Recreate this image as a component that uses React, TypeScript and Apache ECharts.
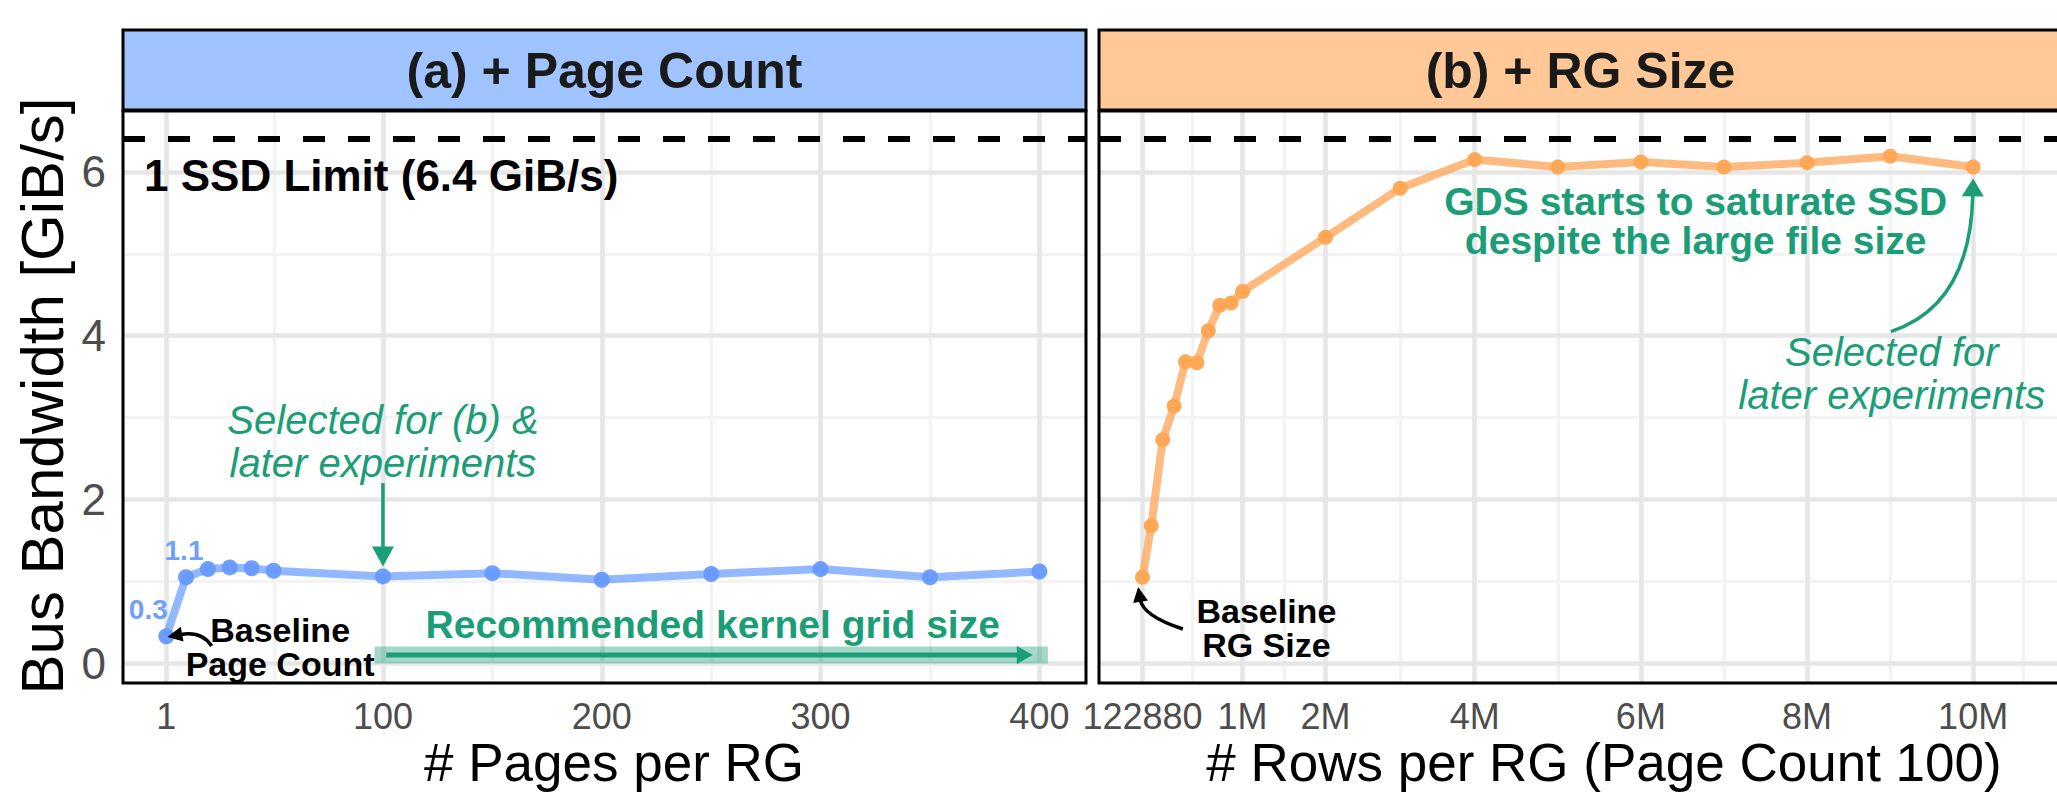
import React, { useEffect, useRef } from "react";
import * as echarts from "echarts";

// ---------- data ----------
const pagesPerRG = [1, 10, 20, 30, 40, 50, 100, 150, 200, 250, 300, 350, 400];
const pageBandwidth = [0.33, 1.05, 1.15, 1.17, 1.16, 1.13, 1.06, 1.1, 1.02, 1.09, 1.15, 1.05, 1.12];
const pageValueLabels = ["0.3", "1.1"]; // printed on the first two points

const rowsPerRG = [
  122880, 200000, 300000, 400000, 500000, 600000, 700000, 800000, 900000, 1000000,
  2000000, 3000000, 4000000, 5000000, 6000000, 7000000, 8000000, 9000000, 10000000,
];
const rgBandwidth = [
  1.05, 1.68, 2.73, 3.14, 3.68, 3.67, 4.06, 4.37, 4.4, 4.54,
  5.2, 5.8, 6.15, 6.06, 6.12, 6.06, 6.11, 6.19, 6.06,
];

const pageTicks = [1, 100, 200, 300, 400];
const rowTicks = [122880, 1000000, 2000000, 4000000, 6000000, 8000000, 10000000];
const rowTickLabels = ["122880", "1M", "2M", "4M", "6M", "8M", "10M"];
const bandwidthTicks = [0, 2, 4, 6];
const ssdLimit = 6.4;

const panelTitles = ["(a) + Page Count", "(b) + RG Size"];
const xTitles = ["# Pages per RG", "# Rows per RG (Page Count 100)"];
const yTitle = "Bus Bandwidth [GiB/s]";

// piecewise-linear scale used for the row axis (value -> scale units)
const rowScaleKnots: [number, number][] = [
  [122880, 0],
  [1000000, 100.6],
  [2000000, 184],
  [4000000, 334],
  [10000000, 835],
];
function rowScale(v: number): number {
  const k = rowScaleKnots;
  let i = 0;
  if (v <= k[0][0]) i = 0;
  else if (v >= k[k.length - 1][0]) i = k.length - 2;
  else {
    while (v > k[i + 1][0]) i++;
  }
  const [x0, u0] = k[i];
  const [x1, u1] = k[i + 1];
  return u0 + ((v - x0) * (u1 - u0)) / (x1 - x0);
}

function minorBreaks(major: number[], lo: number, hi: number): number[] {
  const d = major[1] - major[0];
  const b = [major[0] - d, ...major, major[major.length - 1] + d];
  const out: number[] = [];
  for (let i = 0; i < b.length - 1; i++) {
    const m = (b[i] + b[i + 1]) / 2;
    if (m > lo && m < hi) out.push(m);
  }
  return out;
}

// ---------- styling ----------
const FONT = '"Liberation Sans", Arial, Helvetica, sans-serif';
const GREEN = "#1B9E77";
const BLUE_PT = "#6699FF";
const BLUE_LINE = "rgba(110,160,255,0.75)";
const ORANGE_PT = "#FFA552";
const ORANGE_LINE = "rgba(255,170,95,0.8)";
const GRID_MAJOR = "#E6E6E6";
const GRID_MINOR = "#F3F3F3";

const PANEL_TOP = 111;
const PANEL_H = 572;
const PANEL_W = 963;
const PANEL_LEFT = [123, 1099];
const X_RANGES: [number, number][] = [
  [-18.8, 421.3],
  [-43.7, 919.3],
];
const Y_RANGE: [number, number] = [-0.241, 6.743];

export default function App() {
  const ref = useRef<HTMLDivElement>(null);

  useEffect(() => {
    document.body.style.margin = "0";
    document.body.style.overflow = "hidden";
    const chart = echarts.init(ref.current!, null, { renderer: "svg" });

    const rowTickPos = rowTicks.map(rowScale);
    const xMajor = [pageTicks, rowTickPos];
    const xMinor = [
      minorBreaks(pageTicks, X_RANGES[0][0], X_RANGES[0][1]),
      minorBreaks(rowTickPos, X_RANGES[1][0], X_RANGES[1][1]),
    ];
    const yMinor = minorBreaks(bandwidthTicks, Y_RANGE[0], Y_RANGE[1]);

    const gridLines = (g: number) => [
      ...xMinor[g].map((v) => ({ xAxis: v, lineStyle: { color: GRID_MINOR, width: 3, type: "solid" } })),
      ...yMinor.map((v) => ({ yAxis: v, lineStyle: { color: GRID_MINOR, width: 3, type: "solid" } })),
      ...xMajor[g].map((v) => ({ xAxis: v, lineStyle: { color: GRID_MAJOR, width: 4.5, type: "solid" } })),
      ...bandwidthTicks.map((v) => ({ yAxis: v, lineStyle: { color: GRID_MAJOR, width: 4.5, type: "solid" } })),
    ];

    const limitLine = {
      silent: true,
      z: 2,
      symbol: ["none", "none"],
      label: { show: false },
      emphasis: { disabled: true },
      lineStyle: { color: "#000", width: 6, type: [22, 23] },
      data: [{ yAxis: ssdLimit }],
    };

    const xAxisCommon = {
      type: "value",
      axisLine: { show: false },
      splitLine: { show: false },
      axisTick: { show: true, length: 11, lineStyle: { color: "#333333", width: 2.5 } },
    };

    const option: any = {
      animation: false,
      backgroundColor: "#ffffff",
      grid: PANEL_LEFT.map((l) => ({ left: l, top: PANEL_TOP, width: PANEL_W, height: PANEL_H, show: false })),
      xAxis: [
        {
          ...xAxisCommon,
          gridIndex: 0,
          min: X_RANGES[0][0],
          max: X_RANGES[0][1],
          axisTick: { ...xAxisCommon.axisTick, customValues: pageTicks },
          axisLabel: { customValues: pageTicks, fontSize: 36, color: "#4D4D4D", fontFamily: FONT, margin: 15 },
        },
        {
          ...xAxisCommon,
          gridIndex: 1,
          min: X_RANGES[1][0],
          max: X_RANGES[1][1],
          axisTick: { ...xAxisCommon.axisTick, customValues: rowTickPos },
          axisLabel: {
            customValues: rowTickPos,
            fontSize: 36,
            color: "#4D4D4D",
            fontFamily: FONT,
            margin: 15,
            formatter: (v: number) => {
              let best = 0;
              rowTickPos.forEach((p, i) => {
                if (Math.abs(p - v) < Math.abs(rowTickPos[best] - v)) best = i;
              });
              return rowTickLabels[best];
            },
          },
        },
      ],
      yAxis: [
        {
          type: "value",
          gridIndex: 0,
          min: Y_RANGE[0],
          max: Y_RANGE[1],
          axisLine: { show: false },
          splitLine: { show: false },
          axisTick: { show: true, length: 11, customValues: bandwidthTicks, lineStyle: { color: "#333333", width: 2.5 } },
          axisLabel: { customValues: bandwidthTicks, fontSize: 44, color: "#4D4D4D", fontFamily: FONT, margin: 17 },
        },
        {
          type: "value",
          gridIndex: 1,
          min: Y_RANGE[0],
          max: Y_RANGE[1],
          axisLine: { show: false },
          splitLine: { show: false },
          axisTick: { show: false },
          axisLabel: { show: false },
        },
      ],
      series: [
        ...[0, 1].map((g) => ({
          type: "line",
          xAxisIndex: g,
          yAxisIndex: g,
          data: [],
          z: 1,
          silent: true,
          markLine: {
            silent: true,
            z: 1,
            symbol: ["none", "none"],
            label: { show: false },
            emphasis: { disabled: true },
            data: gridLines(g),
          },
        })),
        {
          type: "line",
          xAxisIndex: 0,
          yAxisIndex: 0,
          z: 5,
          symbol: "circle",
          symbolSize: 16,
          lineStyle: { color: BLUE_LINE, width: 8 },
          itemStyle: { color: BLUE_PT, borderWidth: 0, opacity: 0.95 },
          data: pagesPerRG.map((x, i) => {
            const item: any = { value: [x, pageBandwidth[i]] };
            if (i < pageValueLabels.length) {
              item.label = {
                show: true,
                position: "top",
                offset: [i === 0 ? -18 : -2, 0],
                formatter: pageValueLabels[i],
                fontSize: 28,
                fontWeight: "bold",
                fontFamily: FONT,
                color: BLUE_PT,
              };
            }
            return item;
          }),
          markLine: limitLine,
        },
        {
          type: "line",
          xAxisIndex: 1,
          yAxisIndex: 1,
          z: 5,
          symbol: "circle",
          symbolSize: 15,
          lineStyle: { color: ORANGE_LINE, width: 8 },
          itemStyle: { color: ORANGE_PT, borderWidth: 0, opacity: 0.95 },
          data: rowsPerRG.map((r, i) => [rowScale(r), rgBandwidth[i]]),
          markLine: limitLine,
        },
      ],
    };

    chart.setOption(option);

    const px = (g: number, x: number, y: number): number[] =>
      chart.convertToPixel({ gridIndex: g } as any, [g === 1 ? rowScale(x) : x, y]) as number[];

    const Z = 20;
    const text = (p: number[], t: string, style: any, align = "center") => ({
      type: "text",
      x: p[0],
      y: p[1],
      z: Z,
      style: { text: t, fontFamily: FONT, align, verticalAlign: "middle", ...style },
    });

    const arrow = (p0: number[], ctrl: number[] | null, p2: number[], color: string, width: number, headLen: number, headW: number) => {
      const c = ctrl ?? p0;
      let dx = p2[0] - c[0];
      let dy = p2[1] - c[1];
      const L = Math.hypot(dx, dy) || 1;
      dx /= L;
      dy /= L;
      const base = [p2[0] - dx * headLen * 0.85, p2[1] - dy * headLen * 0.85];
      const hb = [p2[0] - dx * headLen, p2[1] - dy * headLen];
      const nx = -dy;
      const ny = dx;
      const els: any[] = [];
      if (ctrl) {
        els.push({
          type: "bezierCurve",
          z: Z,
          shape: { x1: p0[0], y1: p0[1], x2: base[0], y2: base[1], cpx1: ctrl[0], cpy1: ctrl[1] },
          style: { stroke: color, lineWidth: width, fill: "none" },
        });
      } else {
        els.push({
          type: "line",
          z: Z,
          shape: { x1: p0[0], y1: p0[1], x2: base[0], y2: base[1] },
          style: { stroke: color, lineWidth: width },
        });
      }
      els.push({
        type: "polygon",
        z: Z,
        shape: {
          points: [
            [p2[0], p2[1]],
            [hb[0] + (nx * headW) / 2, hb[1] + (ny * headW) / 2],
            [hb[0] - (nx * headW) / 2, hb[1] - (ny * headW) / 2],
          ],
        },
        style: { fill: color },
      });
      return els;
    };

    const graphics: any[] = [];

    // strips and panel borders
    PANEL_LEFT.forEach((l, g) => {
      graphics.push({
        type: "rect",
        z: 30,
        shape: { x: l, y: 30, width: PANEL_W, height: 80 },
        style: { fill: g === 0 ? "#A0C4FF" : "#FFC896", stroke: "#000", lineWidth: 3 },
      });
      graphics.push({
        type: "text",
        z: 31,
        x: l + PANEL_W / 2,
        y: 71,
        style: {
          text: panelTitles[g],
          fontFamily: FONT,
          fontWeight: "bold",
          fontSize: 50,
          fill: "#1A1A1A",
          align: "center",
          verticalAlign: "middle",
        },
      });
      graphics.push({
        type: "rect",
        z: 30,
        shape: { x: l, y: PANEL_TOP, width: PANEL_W, height: PANEL_H },
        style: { fill: "none", stroke: "#000", lineWidth: 3 },
      });
    });

    // axis titles
    graphics.push(text([614, 762], xTitles[0], { fontSize: 53, fill: "#000" }));
    graphics.push(text([1604, 762], xTitles[1], { fontSize: 53, fill: "#000" }));
    graphics.push({
      type: "text",
      z: Z,
      x: 42,
      y: 396,
      rotation: Math.PI / 2,
      style: { text: yTitle, fontFamily: FONT, fontSize: 60, fill: "#000", align: "center", verticalAlign: "middle" },
    });

    // left panel annotations
    graphics.push(text(px(0, -9.2, 5.96), `1 SSD Limit (${ssdLimit} GiB/s)`, { fontSize: 44, fontWeight: "bold", fill: "#000" }, "left"));
    graphics.push(
      text(px(0, 100, 2.706), "Selected for (b) &\nlater experiments", { fontSize: 40, fontStyle: "italic", fill: GREEN, lineHeight: 43 })
    );
    graphics.push(...arrow(px(0, 100, 2.2), null, px(0, 100, 1.18), GREEN, 3.5, 20, 22));
    graphics.push(text(px(0, 250.7, 0.47), "Recommended kernel grid size", { fontSize: 39, fontWeight: "bold", fill: GREEN }));
    {
      const a = px(0, 100, 0.1);
      const b = px(0, 400, 0.1);
      graphics.push({
        type: "line",
        z: Z,
        shape: { x1: a[0], y1: a[1], x2: b[0], y2: b[1] },
        style: { stroke: "rgba(27,158,119,0.4)", lineWidth: 17, lineCap: "square" },
      });
    }
    graphics.push(...arrow(px(0, 101.5, 0.1), null, px(0, 397, 0.1), GREEN, 5, 16, 18));
    graphics.push(text(px(0, 53, 0.196), "Baseline\nPage Count", { fontSize: 34, fontWeight: "bold", fill: "#000", lineHeight: 34 }));
    graphics.push(...arrow(px(0, 21.7, 0.211), px(0, 17.1, 0.4), px(0, 1.5, 0.32), "#000", 3.5, 15, 15));

    // right panel annotations
    graphics.push(
      text(px(1, 6660000, 5.4), "GDS starts to saturate SSD\ndespite the large file size", {
        fontSize: 39,
        fontWeight: "bold",
        fill: GREEN,
        lineHeight: 39,
      })
    );
    graphics.push(...arrow(px(1, 9010000, 4.05), px(1, 9970000, 4.37), px(1, 10000000, 5.92), GREEN, 3.5, 18, 22));
    graphics.push(
      text(px(1, 9020000, 3.54), "Selected for\nlater experiments", { fontSize: 40, fontStyle: "italic", fill: GREEN, lineHeight: 43 })
    );
    graphics.push(text(px(1, 1287000, 0.427), "Baseline\nRG Size", { fontSize: 34, fontWeight: "bold", fill: "#000", lineHeight: 34 }));
    graphics.push(...arrow(px(1, 476840, 0.418), px(1, 127240, 0.577), px(1, 84520, 0.932), "#000", 3.5, 15, 15));

    chart.setOption({ graphic: graphics });

    return () => chart.dispose();
  }, []);

  return <div ref={ref} style={{ width: 2057, height: 796, background: "#fff" }} />;
}
